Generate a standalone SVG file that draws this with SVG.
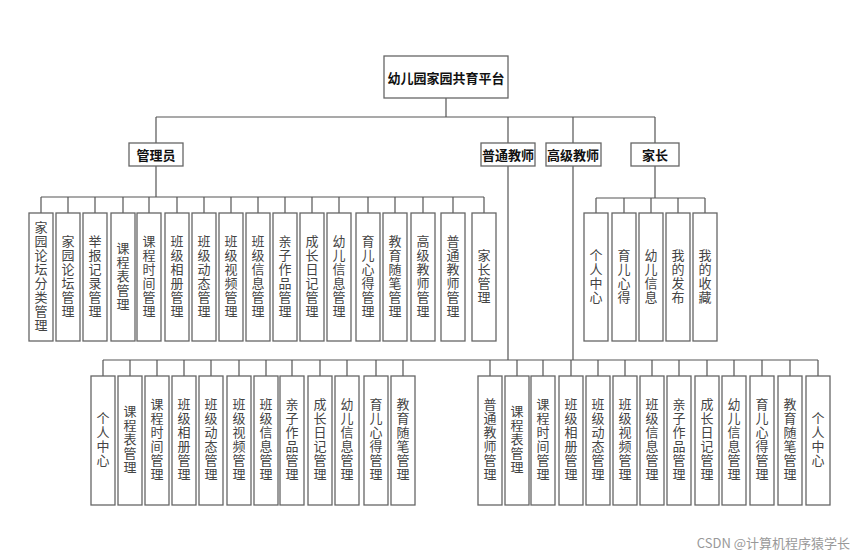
<svg xmlns="http://www.w3.org/2000/svg" width="864" height="559" viewBox="0 0 864 559">
<style>
.b{fill:#fff;stroke:#666;stroke-width:1.3}
.t{font-family:"Noto Sans CJK SC",sans-serif;font-weight:bold;font-size:13px;fill:#111;text-anchor:middle;dominant-baseline:central}
.v{font-family:"Noto Sans CJK SC",sans-serif;font-size:13px;fill:#444;writing-mode:vertical-rl;text-anchor:middle;dominant-baseline:central;letter-spacing:1px}
.c{fill:none;stroke:#555;stroke-width:1.2}
</style>
<rect width="864" height="559" fill="#fff"/>
<g id="connectors" class="c">
<path d="M446 98V117M156 117H655M156 117V143M508 117V143M573 117V143M655 117V143"/>
<path d="M156 166V197M41 197H484M41 197V213M68 197V213M95 197V213M123 197V213M149 197V213M177 197V213M204 197V213M231 197V213M258 197V213M285 197V213M312 197V213M339 197V213M368 197V213M395 197V213M423 197V213M453 197V213M484 197V213"/>
<path d="M655 166V198M596 198H705M596 198V213M624 198V213M651 198V213M678 198V213M705 198V213"/>
<path d="M508 166V360M573 166V360M103 360H818M103 360V376M130 360V376M157 360V376M184 360V376M211 360V376M239 360V376M266 360V376M292 360V376M320 360V376M347 360V376M376 360V376M403 360V376M490 360V376M517 360V376M543 360V376M571 360V376M598 360V376M625 360V376M652 360V376M679 360V376M707 360V376M734 360V376M762 360V376M790 360V376M818 360V376"/>
</g>
<g id="root"><rect class="b" x="384" y="56" width="124" height="42"/><text class="t" x="446" y="77">幼儿园家园共育平台</text></g>
<g id="admin"><rect class="b" x="129" y="143" width="54" height="23"/><text class="t" x="156" y="154.5">管理员</text></g>
<g id="teacher"><rect class="b" x="481" y="143" width="54" height="23"/><text class="t" x="508" y="154.5">普通教师</text></g>
<g id="senior"><rect class="b" x="546" y="143" width="55" height="23"/><text class="t" x="573" y="154.5">高级教师</text></g>
<g id="parent"><rect class="b" x="631" y="143" width="48" height="23"/><text class="t" x="655" y="154.5">家长</text></g>
<g id="admin-children">
<g id="a1"><rect class="b" x="29" y="213" width="24" height="128"/><text class="v" x="41" y="277">家园论坛分类管理</text></g>
<g id="a2"><rect class="b" x="56" y="213" width="24" height="128"/><text class="v" x="68" y="277">家园论坛管理</text></g>
<g id="a3"><rect class="b" x="83" y="213" width="24" height="128"/><text class="v" x="95" y="277">举报记录管理</text></g>
<g id="a4"><rect class="b" x="111" y="213" width="24" height="128"/><text class="v" x="123" y="277">课程表管理</text></g>
<g id="a5"><rect class="b" x="137" y="213" width="24" height="128"/><text class="v" x="149" y="277">课程时间管理</text></g>
<g id="a6"><rect class="b" x="165" y="213" width="24" height="128"/><text class="v" x="177" y="277">班级相册管理</text></g>
<g id="a7"><rect class="b" x="192" y="213" width="24" height="128"/><text class="v" x="204" y="277">班级动态管理</text></g>
<g id="a8"><rect class="b" x="219" y="213" width="24" height="128"/><text class="v" x="231" y="277">班级视频管理</text></g>
<g id="a9"><rect class="b" x="246" y="213" width="24" height="128"/><text class="v" x="258" y="277">班级信息管理</text></g>
<g id="a10"><rect class="b" x="273" y="213" width="24" height="128"/><text class="v" x="285" y="277">亲子作品管理</text></g>
<g id="a11"><rect class="b" x="300" y="213" width="24" height="128"/><text class="v" x="312" y="277">成长日记管理</text></g>
<g id="a12"><rect class="b" x="327" y="213" width="24" height="128"/><text class="v" x="339" y="277">幼儿信息管理</text></g>
<g id="a13"><rect class="b" x="356" y="213" width="24" height="128"/><text class="v" x="368" y="277">育儿心得管理</text></g>
<g id="a14"><rect class="b" x="383" y="213" width="24" height="128"/><text class="v" x="395" y="277">教育随笔管理</text></g>
<g id="a15"><rect class="b" x="411" y="213" width="24" height="128"/><text class="v" x="423" y="277">高级教师管理</text></g>
<g id="a16"><rect class="b" x="441" y="213" width="24" height="128"/><text class="v" x="453" y="277">普通教师管理</text></g>
<g id="a17"><rect class="b" x="472" y="213" width="24" height="128"/><text class="v" x="484" y="277">家长管理</text></g>
</g>
<g id="parent-children">
<g id="p1"><rect class="b" x="584" y="213" width="24" height="128"/><text class="v" x="596" y="277">个人中心</text></g>
<g id="p2"><rect class="b" x="612" y="213" width="24" height="128"/><text class="v" x="624" y="277">育儿心得</text></g>
<g id="p3"><rect class="b" x="639" y="213" width="24" height="128"/><text class="v" x="651" y="277">幼儿信息</text></g>
<g id="p4"><rect class="b" x="666" y="213" width="24" height="128"/><text class="v" x="678" y="277">我的发布</text></g>
<g id="p5"><rect class="b" x="693" y="213" width="24" height="128"/><text class="v" x="705" y="277">我的收藏</text></g>
</g>
<g id="senior-children">
<g id="s1"><rect class="b" x="91" y="376" width="24" height="129"/><text class="v" x="103" y="440">个人中心</text></g>
<g id="s2"><rect class="b" x="118" y="376" width="24" height="129"/><text class="v" x="130" y="440">课程表管理</text></g>
<g id="s3"><rect class="b" x="145" y="376" width="24" height="129"/><text class="v" x="157" y="440">课程时间管理</text></g>
<g id="s4"><rect class="b" x="172" y="376" width="24" height="129"/><text class="v" x="184" y="440">班级相册管理</text></g>
<g id="s5"><rect class="b" x="199" y="376" width="24" height="129"/><text class="v" x="211" y="440">班级动态管理</text></g>
<g id="s6"><rect class="b" x="227" y="376" width="24" height="129"/><text class="v" x="239" y="440">班级视频管理</text></g>
<g id="s7"><rect class="b" x="254" y="376" width="24" height="129"/><text class="v" x="266" y="440">班级信息管理</text></g>
<g id="s8"><rect class="b" x="280" y="376" width="24" height="129"/><text class="v" x="292" y="440">亲子作品管理</text></g>
<g id="s9"><rect class="b" x="308" y="376" width="24" height="129"/><text class="v" x="320" y="440">成长日记管理</text></g>
<g id="s10"><rect class="b" x="335" y="376" width="24" height="129"/><text class="v" x="347" y="440">幼儿信息管理</text></g>
<g id="s11"><rect class="b" x="364" y="376" width="24" height="129"/><text class="v" x="376" y="440">育儿心得管理</text></g>
<g id="s12"><rect class="b" x="391" y="376" width="24" height="129"/><text class="v" x="403" y="440">教育随笔管理</text></g>
</g>
<g id="teacher-children">
<g id="t1"><rect class="b" x="478" y="376" width="24" height="129"/><text class="v" x="490" y="440">普通教师管理</text></g>
<g id="t2"><rect class="b" x="505" y="376" width="24" height="129"/><text class="v" x="517" y="440">课程表管理</text></g>
<g id="t3"><rect class="b" x="531" y="376" width="24" height="129"/><text class="v" x="543" y="440">课程时间管理</text></g>
<g id="t4"><rect class="b" x="559" y="376" width="24" height="129"/><text class="v" x="571" y="440">班级相册管理</text></g>
<g id="t5"><rect class="b" x="586" y="376" width="24" height="129"/><text class="v" x="598" y="440">班级动态管理</text></g>
<g id="t6"><rect class="b" x="613" y="376" width="24" height="129"/><text class="v" x="625" y="440">班级视频管理</text></g>
<g id="t7"><rect class="b" x="640" y="376" width="24" height="129"/><text class="v" x="652" y="440">班级信息管理</text></g>
<g id="t8"><rect class="b" x="667" y="376" width="24" height="129"/><text class="v" x="679" y="440">亲子作品管理</text></g>
<g id="t9"><rect class="b" x="695" y="376" width="24" height="129"/><text class="v" x="707" y="440">成长日记管理</text></g>
<g id="t10"><rect class="b" x="722" y="376" width="24" height="129"/><text class="v" x="734" y="440">幼儿信息管理</text></g>
<g id="t11"><rect class="b" x="750" y="376" width="24" height="129"/><text class="v" x="762" y="440">育儿心得管理</text></g>
<g id="t12"><rect class="b" x="778" y="376" width="24" height="129"/><text class="v" x="790" y="440">教育随笔管理</text></g>
<g id="t13"><rect class="b" x="806" y="376" width="24" height="129"/><text class="v" x="818" y="440">个人中心</text></g>
</g>
<text x="850" y="548" font-family="'Noto Sans CJK SC',sans-serif" font-size="13" fill="#999" text-anchor="end">CSDN @计算机程序猿学长</text>
</svg>
